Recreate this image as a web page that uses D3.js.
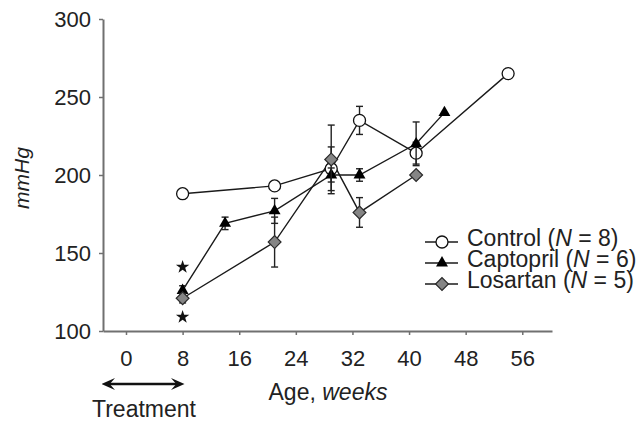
<!DOCTYPE html>
<html>
<head>
<meta charset="utf-8">
<script src="https://cdn.jsdelivr.net/npm/d3@7"></script>
<style>
  body { margin: 0; background: #fff; }
  text { font-family: 'Liberation Sans', Arial, Helvetica, sans-serif; fill: #222; }
</style>
</head>
<body>
<div id="chart"></div>
<script>
// values (age in weeks, pressure in mmHg)
const xTicks = [0, 8, 16, 24, 32, 40, 48, 56];
const yTicks = [100, 150, 200, 250, 300];

const controlWeeks = [8, 21, 29, 33, 41, 54];
const controlValues = [188, 193, 204, 235, 214, 265];
const controlErrors = [0, 0, 14, 9, 7, 0];

const captoprilWeeks = [8, 14, 21, 29, 33, 41, 45];
const captoprilValues = [126, 169, 177, 200, 200, 220, 240];
const captoprilErrors = [3, 4, 8, 4.5, 4, 14, 0];

const losartanWeeks = [8, 21, 29, 33, 41];
const losartanValues = [121, 157, 210, 176, 200];
const losartanErrors = [3, 16, 22, 9.5, 0];

const starWeeks = [8, 8];
const starValues = [141, 109];

const legendLabels = [
  ['Control (', 'N', ' = 8)'],
  ['Captopril (', 'N', ' = 6)'],
  ['Losartan (', 'N', ' = 5)'],
];

const width = 644;
const height = 424;
const fontSize = 22;

const zip = (w, v, e) => w.map((d, i) => ({ week: d, value: v[i], err: e[i] }));
const series = [
  { name: 'control', data: zip(controlWeeks, controlValues, controlErrors) },
  { name: 'captopril', data: zip(captoprilWeeks, captoprilValues, captoprilErrors) },
  { name: 'losartan', data: zip(losartanWeeks, losartanValues, losartanErrors) },
];

const svg = d3
  .select('#chart')
  .append('svg')
  .attr('width', width)
  .attr('height', height);

const x = d3.scaleLinear().domain([-3.25, 60.2]).range([103, 552]);
const y = d3.scaleLinear().domain([100, 300]).range([331, 19]);

// axes
const axisColor = '#707070';
const yG = svg.append('g')
  .attr('transform', `translate(${x.range()[0]},0)`)
  .call(d3.axisLeft(y).tickValues(yTicks).tickSize(4).tickPadding(8).tickSizeOuter(0));
yG.select('.domain').attr('stroke', axisColor).attr('stroke-width', 2);
yG.selectAll('.tick line').attr('stroke', axisColor).attr('stroke-width', 1.5);
yG.selectAll('.tick text').style('font-size', fontSize + 'px').attr('fill', '#222');

const xG = svg.append('g')
  .attr('transform', `translate(0,${y.range()[0]})`)
  .call(d3.axisBottom(x).tickValues(xTicks).tickSize(4).tickPadding(15).tickSizeOuter(0));
xG.select('.domain').attr('stroke', axisColor).attr('stroke-width', 2);
xG.selectAll('.tick line').attr('stroke', axisColor).attr('stroke-width', 1.5);
xG.selectAll('.tick text').style('font-size', fontSize + 'px').attr('fill', '#222');

// axis titles
svg.append('text')
  .attr('transform', 'translate(29,178) rotate(-90)')
  .attr('text-anchor', 'middle')
  .style('font-size', '21px')
  .style('font-style', 'italic')
  .text('mmHg');

const xTitle = svg.append('text')
  .attr('x', 328)
  .attr('y', 400)
  .attr('text-anchor', 'middle')
  .style('font-size', '23px');
xTitle.append('tspan').text('Age, ');
xTitle.append('tspan').style('font-style', 'italic').text('weeks');

// treatment arrow
const defs = svg.append('defs');
['start', 'end'].forEach(k => {
  defs.append('marker')
    .attr('id', 'arrow-' + k)
    .attr('viewBox', '0 0 10 10')
    .attr('refX', 6)
    .attr('refY', 5)
    .attr('markerWidth', 5.5)
    .attr('markerHeight', 5.5)
    .attr('orient', k === 'end' ? 'auto' : 'auto-start-reverse')
    .append('path')
    .attr('d', 'M0,0.5 L10,5 L0,9.5 L4,5 Z')
    .attr('fill', '#111');
});
svg.append('line')
  .attr('x1', 107).attr('x2', 179)
  .attr('y1', 384).attr('y2', 384)
  .attr('stroke', '#111')
  .attr('stroke-width', 2.5)
  .attr('marker-start', 'url(#arrow-start)')
  .attr('marker-end', 'url(#arrow-end)');
svg.append('text')
  .attr('x', 144)
  .attr('y', 417)
  .attr('text-anchor', 'middle')
  .style('font-size', '23px')
  .text('Treatment');

// marker drawing
const drawMarker = (g, name) => {
  if (name === 'control') {
    g.append('circle').attr('r', 6).attr('fill', '#fff').attr('stroke', '#111').attr('stroke-width', 1.3);
  } else if (name === 'captopril') {
    g.append('path').attr('d', d3.symbol().type(d3.symbolTriangle).size(62)()).attr('fill', '#000');
  } else {
    g.append('path')
      .attr('d', d3.symbol().type(d3.symbolSquare).size(82)())
      .attr('transform', 'rotate(45)')
      .attr('fill', '#858585')
      .attr('stroke', '#2a2a2a')
      .attr('stroke-width', 1.2);
  }
};

// lines
const line = d3.line().x(d => x(d.week)).y(d => y(d.value));
series.forEach(s => {
  svg.append('path')
    .datum(s.data)
    .attr('d', line)
    .attr('fill', 'none')
    .attr('stroke', '#1a1a1a')
    .attr('stroke-width', 1.4);
});

// error bars and markers
series.forEach(s => {
  const eg = svg.append('g').attr('class', 'err-' + s.name);
  s.data.filter(d => d.err > 0).forEach(d => {
    const cx = x(d.week);
    const y0 = y(d.value - d.err);
    const y1 = y(d.value + d.err);
    eg.append('line').attr('x1', cx).attr('x2', cx).attr('y1', y0).attr('y2', y1)
      .attr('stroke', '#222').attr('stroke-width', 1.4);
    [y0, y1].forEach(yy => {
      eg.append('line').attr('x1', cx - 3.5).attr('x2', cx + 3.5).attr('y1', yy).attr('y2', yy)
        .attr('stroke', '#222').attr('stroke-width', 1.4);
    });
  });
  svg.append('g')
    .selectAll('g')
    .data(s.data)
    .enter()
    .append('g')
    .attr('transform', d => `translate(${x(d.week)},${y(d.value)})`)
    .each(function drawOne() { drawMarker(d3.select(this), s.name); });
});

// significance stars
svg.append('g')
  .selectAll('path')
  .data(starWeeks.map((w, i) => ({ week: w, value: starValues[i] })))
  .enter()
  .append('path')
  .attr('d', d3.symbol().type(d3.symbolStar).size(56)())
  .attr('transform', d => `translate(${x(d.week)},${y(d.value)})`)
  .attr('fill', '#111');

// legend
const legend = svg.append('g').attr('transform', 'translate(0,242)');
series.forEach((s, i) => {
  const row = legend.append('g').attr('transform', `translate(0,${i * 21})`);
  row.append('line').attr('x1', 425).attr('x2', 458).attr('y1', 0).attr('y2', 0)
    .attr('stroke', '#1a1a1a').attr('stroke-width', 1.4);
  drawMarker(row.append('g').attr('transform', 'translate(442,0)'), s.name);
  const t = row.append('text')
    .attr('x', 467)
    .attr('y', 4)
    .style('font-size', '23px');
  t.append('tspan').text(legendLabels[i][0]);
  t.append('tspan').style('font-style', 'italic').text(legendLabels[i][1]);
  t.append('tspan').text(legendLabels[i][2]);
});
</script>
</body>
</html>
